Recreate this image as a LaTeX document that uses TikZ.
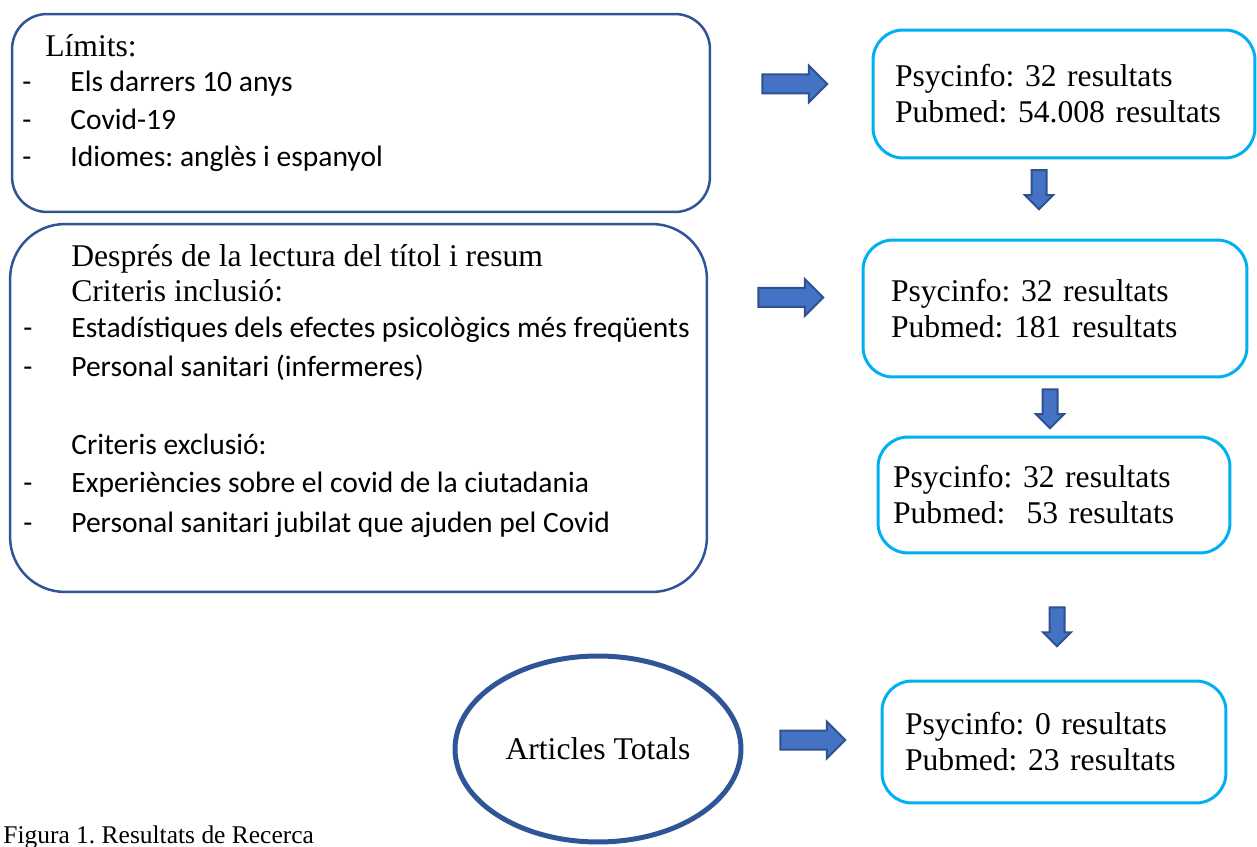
\documentclass[tikz,border=0pt]{standalone}
\usepackage{fontspec}
\setmainfont{Liberation Serif}
\newfontfamily\calibri{Carlito}
\usetikzlibrary{shapes.geometric,shapes.arrows}
\definecolor{boxblue}{HTML}{2F5597}
\definecolor{resblue}{HTML}{00B0F0}
\definecolor{arrowfill}{HTML}{4472C4}
\definecolor{arrowline}{HTML}{2F528F}
\frenchspacing

\begin{document}
\begin{tikzpicture}[x=0.02cm,y=-0.02cm,
  font=\fontsize{18}{20.5}\selectfont,
  leftbox/.style={draw=boxblue,line width=0.5mm,inner sep=0pt},
  resbox/.style={draw=resblue,line width=0.6mm,rounded corners=6mm,align=left,inner ysep=0pt},
  serifline/.style={anchor=base west,inner sep=0pt},
  listline/.style={anchor=base west,inner sep=0pt,font=\calibri\fontsize{16.8}{20}\selectfont},
  rarrow/.style={shape=single arrow,fill=arrowfill,draw=arrowline,line width=0.4mm,inner xsep=0pt,inner ysep=1.7mm,single arrow head extend=1.8mm,minimum height=13mm},
  darrow/.style={shape=single arrow,rotate=-90,fill=arrowfill,draw=arrowline,line width=0.4mm,inner xsep=0pt,inner ysep=1.3mm,single arrow head extend=1.3mm,minimum height=7.8mm}]
\useasboundingbox (0,0) rectangle (1257,847);

\node[leftbox,rounded corners=7mm,minimum width=139.6mm,minimum height=39.6mm] (limits) at (361,113) {};
\node[serifline] (limitstitle) at (45,57) {Límits:};
\node[listline] (d1) at (22,92) {-};
\node[listline] (l1) at (70,92) {Els darrers 10 anys};
\node[listline] (d2) at (22,130) {-};
\node[listline] (l2) at (70,130) {Covid-19};
\node[listline] (d3) at (22,167) {-};
\node[listline] (l3) at (70,167) {Idiomes: anglès i espanyol};

\node[leftbox,rounded corners=11mm,minimum width=139.4mm,minimum height=73.6mm] (criteris) at (358.5,408) {};
\node[serifline] (lectura) at (71,267) {Després de la lectura del títol i resum};
\node[serifline] (inclusio) at (71,302) {Criteris inclusió:};
\node[listline] (d4) at (23,338) {-};
\node[listline] (l4) at (71,338) {Estadístiques dels efectes psicològics més freqüents};
\node[listline] (d5) at (23,377) {-};
\node[listline] (l5) at (71,377) {Personal sanitari (infermeres)};
\node[listline] (exclusio) at (71,455) {Criteris exclusió:};
\node[listline] (d6) at (23,493) {-};
\node[listline] (l6) at (71,493) {Experiències sobre el covid de la ciutadania};
\node[listline] (d7) at (23,532) {-};
\node[listline] (l7) at (71,532) {Personal sanitari jubilat que ajuden pel Covid};

\node[resbox,minimum height=25.6mm,text width=67.6mm,inner xsep=4.4mm] (resA) at (1064,94) {Psycinfo: 32 resultats\\Pubmed: 54.008 resultats};
\node[resbox,minimum height=27.4mm,text width=65.6mm,inner xsep=5.6mm] (resB) at (1055,308.5) {Psycinfo: 32 resultats\\Pubmed: 181 resultats};
\node[resbox,minimum height=23.2mm,text width=64.4mm,inner xsep=3mm] (resC) at (1054,495) {Psycinfo: 32 resultats\\Pubmed: \ 53 resultats};
\node[resbox,minimum height=24.4mm,text width=59.6mm,inner xsep=4.6mm] (resD) at (1054,742) {Psycinfo: 0 resultats\\Pubmed: 23 resultats};

\node[shape=ellipse,draw=boxblue,line width=1mm,inner sep=0pt,minimum width=57.2mm,minimum height=37.2mm] (totals) at (598,749) {Articles Totals};

\node[rarrow] (a1) at (790,84) {};
\node[rarrow] (a2) at (786,297.5) {};
\node[rarrow] (a3) at (808,740) {};
\node[darrow] (a4) at (1039,186) {};
\node[darrow] (a5) at (1050,405) {};
\node[darrow] (a6) at (1057,623) {};

\node[serifline,font=\fontsize{14.5}{16}\selectfont] (caption) at (3,843) {Figura 1. Resultats de Recerca};
\end{tikzpicture}
\end{document}
